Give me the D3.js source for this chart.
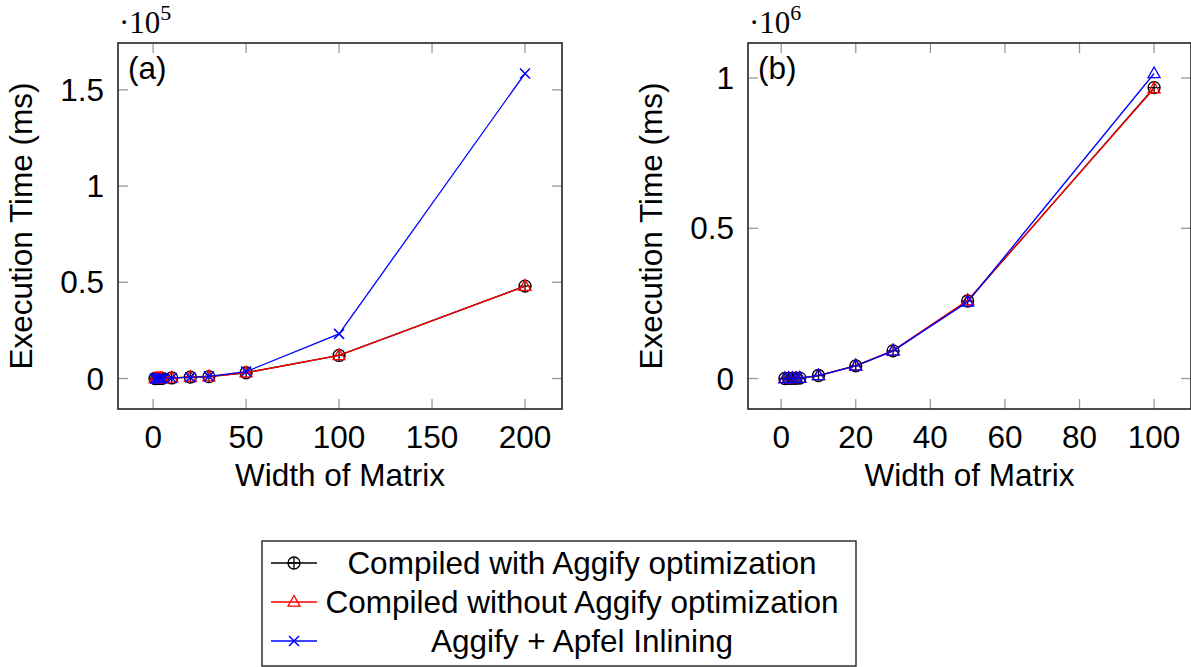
<!DOCTYPE html>
<html>
<head>
<meta charset="utf-8">
<script src="https://cdnjs.cloudflare.com/ajax/libs/d3/7.8.5/d3.min.js"></script>
<style>
  body { margin: 0; background: #fff; }
  svg { display: block; }
  text { font-family: "Liberation Sans", Arial, sans-serif; }
</style>
</head>
<body>
<svg id="chart" width="1191" height="667"></svg>
<script>
// ---- data ----
const widthsA = [1, 2, 3, 4, 5, 10, 20, 30, 50, 100, 200];
const aggifyA = [10, 20, 40, 60, 100, 300, 700, 1000, 3000, 12000, 48000];
const noAggifyA = [10, 20, 40, 60, 100, 300, 700, 1000, 3000, 12000, 48000];
const apfelA = [10, 20, 40, 60, 100, 300, 600, 1100, 3600, 23200, 158500];

const widthsB = [1, 2, 3, 4, 5, 10, 20, 30, 50, 100];
const aggifyB = [100, 300, 600, 1000, 1500, 10000, 42000, 92000, 258000, 968000];
const noAggifyB = [100, 300, 600, 1000, 1500, 10000, 43000, 93000, 260000, 965000];
const apfelB = [100, 300, 600, 1000, 1500, 10000, 42000, 92000, 255000, 1015000];

const ticksXA = [0, 50, 100, 150, 200];
const ticksYA = [0, 50000, 100000, 150000];
const ticksXB = [0, 20, 40, 60, 80, 100];
const ticksYB = [0, 500000, 1000000];

const seriesNames = ["Compiled with Aggify optimization", "Compiled without Aggify optimization", "Aggify + Apfel Inlining"];
const seriesColors = ["#000000", "#ff0000", "#0000ff"];

const svg = d3.select("#chart");
const fontSize = 31.5;

// enlarge limits like pgfplots (10%)
function enlarged(vals) {
    const [lo, hi] = d3.extent(vals);
    const pad = (hi - lo) * 0.1;
    return [lo - pad, hi + pad];
}

function drawMarker(g, type, color) {
    if (type === "oplus") {
        g.append("circle").attr("r", 6).attr("fill", "none").attr("stroke", color).attr("stroke-width", 1.3);
        g.append("path").attr("d", "M-6,0H6M0,-6V6").attr("stroke", color).attr("stroke-width", 1.3);
    } else if (type === "triangle") {
        g.append("path").attr("d", "M0,-6.5L6,4.2H-6Z").attr("fill", "none").attr("stroke", color).attr("stroke-width", 1.3);
    } else {
        g.append("path").attr("d", "M-5,-5L5,5M-5,5L5,-5").attr("stroke", color).attr("stroke-width", 1.5);
    }
}

function drawPlot(p) {
    const g = svg.append("g");
    const allY = p.series.flatMap(s => s.values);
    const x = d3.scaleLinear().domain(enlarged(p.xs)).range([p.left, p.right]);
    const y = d3.scaleLinear().domain(enlarged(allY)).range([p.bottom, p.top]);
    const tickLen = 10;

    // ticks (gray, inside, mirrored)
    const tg = g.append("g").attr("stroke", "#9a9a9a").attr("stroke-width", 1.3);
    p.ticksX.forEach(t => {
        tg.append("line").attr("x1", x(t)).attr("x2", x(t)).attr("y1", p.bottom).attr("y2", p.bottom - tickLen);
        tg.append("line").attr("x1", x(t)).attr("x2", x(t)).attr("y1", p.top).attr("y2", p.top + tickLen);
    });
    p.ticksY.forEach(t => {
        tg.append("line").attr("x1", p.left).attr("x2", p.left + tickLen).attr("y1", y(t)).attr("y2", y(t));
        tg.append("line").attr("x1", p.right).attr("x2", p.right - tickLen).attr("y1", y(t)).attr("y2", y(t));
    });

    // tick labels
    p.ticksX.forEach(t => {
        g.append("text").attr("x", x(t)).attr("y", p.bottom + 39)
            .attr("text-anchor", "middle").attr("font-size", fontSize).text(t);
    });
    p.ticksY.forEach(t => {
        g.append("text").attr("x", p.left - 14).attr("y", y(t) + 11)
            .attr("text-anchor", "end").attr("font-size", fontSize).text(d3.format("~g")(t / p.scaleExp));
    });

    // series
    const line = d3.line().x(d => x(d[0])).y(d => y(d[1]));
    p.series.forEach((s, i) => {
        const pts = p.xs.map((v, j) => [v, s.values[j]]);
        g.append("path").attr("d", line(pts)).attr("fill", "none")
            .attr("stroke", seriesColors[i]).attr("stroke-width", 1.3);
        pts.forEach(d => {
            drawMarker(g.append("g").attr("transform", `translate(${x(d[0])},${y(d[1])})`), s.marker, seriesColors[i]);
        });
    });

    // frame
    g.append("rect").attr("x", p.left).attr("y", p.top)
        .attr("width", p.right - p.left).attr("height", p.bottom - p.top)
        .attr("fill", "none").attr("stroke", "#222").attr("stroke-width", 1.6);

    // labels
    g.append("text").attr("x", p.left + 10).attr("y", p.top + 36)
        .attr("font-size", fontSize).text(p.tag);
    g.append("text").attr("x", (p.left + p.right) / 2).attr("y", p.bottom + 77)
        .attr("text-anchor", "middle").attr("font-size", fontSize).text("Width of Matrix");
    g.append("text").attr("transform", `translate(${p.left - 86},${(p.top + p.bottom) / 2}) rotate(-90)`)
        .attr("text-anchor", "middle").attr("font-size", fontSize).text("Execution Time (ms)");

    const mult = g.append("text").attr("x", p.left + 1).attr("y", p.top - 10)
        .style("font-family", "'Liberation Serif', 'DejaVu Serif', serif").attr("font-size", 31);
    mult.append("tspan").text("\u00b710");
    mult.append("tspan").attr("dy", -13).attr("font-size", 22).text(p.expLabel);
}

drawPlot({
    left: 118, right: 562, top: 43, bottom: 409,
    xs: widthsA, ticksX: ticksXA, ticksY: ticksYA, scaleExp: 1e5, expLabel: "5", tag: "(a)",
    series: [
        { values: aggifyA, marker: "oplus" },
        { values: noAggifyA, marker: "triangle" },
        { values: apfelA, marker: "x" }
    ]
});

drawPlot({
    left: 748, right: 1191, top: 43, bottom: 409,
    xs: widthsB, ticksX: ticksXB, ticksY: ticksYB, scaleExp: 1e6, expLabel: "6", tag: "(b)",
    series: [
        { values: aggifyB, marker: "oplus" },
        { values: noAggifyB, marker: "triangle" },
        { values: apfelB, marker: "triangle" }
    ]
});

// legend
const lg = svg.append("g");
lg.append("rect").attr("x", 262).attr("y", 541).attr("width", 594).attr("height", 125)
    .attr("fill", "#fff").attr("stroke", "#222").attr("stroke-width", 1.4);
const legendMarkers = ["oplus", "triangle", "x"];
seriesNames.forEach((name, i) => {
    const cy = 563 + i * 39;
    lg.append("line").attr("x1", 271).attr("x2", 317).attr("y1", cy).attr("y2", cy)
        .attr("stroke", seriesColors[i]).attr("stroke-width", 1.3);
    drawMarker(lg.append("g").attr("transform", `translate(294,${cy})`), legendMarkers[i], seriesColors[i]);
    lg.append("text").attr("x", 582).attr("y", cy + 11).attr("text-anchor", "middle")
        .attr("font-size", fontSize).text(name);
});
</script>
</body>
</html>
